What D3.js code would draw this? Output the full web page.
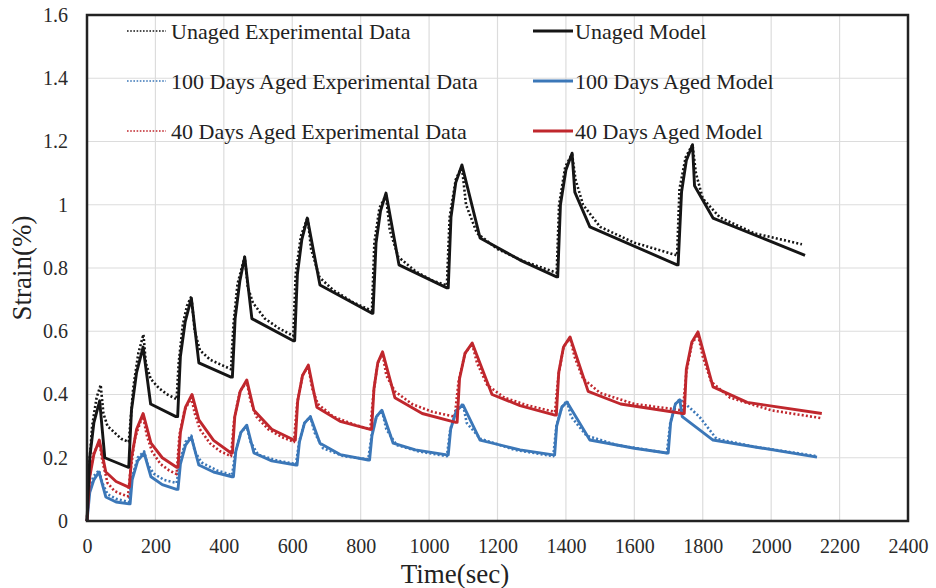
<!DOCTYPE html>
<html>
<head>
<meta charset="utf-8">
<script src="https://cdnjs.cloudflare.com/ajax/libs/d3/7.8.5/d3.min.js"></script>
<style>
  body { margin: 0; background: #fff; }
  svg { display: block; font-family: "Liberation Serif", "Times New Roman", serif; }
</style>
</head>
<body>
<svg></svg>
<script>
// creep-recovery strain, [time (sec), strain (%)]
var unagedExp = [
  [0,0],[5,0.15],[15,0.3],[28,0.39],[40,0.43],[48,0.34],[60,0.3],[80,0.28],[100,0.26],[122,0.25],
  [126,0.3],[135,0.42],[150,0.53],[165,0.59],[172,0.5],[186,0.45],[210,0.42],[235,0.4],[262,0.385],
  [268,0.5],[280,0.62],[292,0.68],[305,0.71],[315,0.6],[330,0.54],[360,0.51],[390,0.495],[421,0.48],
  [428,0.62],[440,0.75],[461,0.835],[470,0.74],[485,0.69],[520,0.64],[560,0.61],[603,0.585],
  [610,0.78],[625,0.9],[645,0.96],[655,0.86],[680,0.77],[720,0.73],[780,0.69],[833,0.665],
  [840,0.88],[855,0.99],[874,1.03],[885,0.92],[910,0.835],[960,0.79],[1010,0.76],[1052,0.745],
  [1060,0.96],[1078,1.08],[1096,1.12],[1108,1.0],[1140,0.91],[1200,0.86],[1280,0.82],[1373,0.785],
  [1380,1.0],[1398,1.12],[1418,1.16],[1428,1.08],[1450,1.0],[1500,0.93],[1600,0.88],[1725,0.84],
  [1732,1.05],[1750,1.15],[1770,1.19],[1780,1.1],[1800,1.02],[1850,0.96],[1950,0.91],[2090,0.875]
];
var unagedModel = [
  [0,0],[8,0.2],[20,0.31],[37,0.38],[52,0.2],[120,0.17],
  [122,0.17],[130,0.35],[145,0.47],[164,0.55],[186,0.37],[260,0.33],
  [265,0.33],[273,0.52],[287,0.63],[305,0.705],[327,0.5],[421,0.455],
  [425,0.455],[433,0.64],[447,0.76],[461,0.835],[482,0.64],[603,0.57],
  [607,0.57],[615,0.78],[628,0.89],[644,0.958],[681,0.746],[833,0.657],
  [836,0.657],[845,0.88],[858,0.98],[874,1.037],[912,0.81],[1052,0.737],
  [1056,0.737],[1064,0.96],[1078,1.07],[1096,1.126],[1149,0.895],[1266,0.825],[1373,0.772],
  [1376,0.772],[1384,1.0],[1400,1.11],[1418,1.163],[1426,1.04],[1470,0.93],[1725,0.81],
  [1728,0.81],[1738,1.04],[1752,1.14],[1770,1.19],[1776,1.06],[1830,0.958],[2099,0.84]
];
var aged100Exp = [
  [0,0],[6,0.09],[18,0.14],[35,0.16],[45,0.12],[60,0.085],[85,0.07],[123,0.06],
  [130,0.13],[148,0.2],[167,0.22],[177,0.18],[195,0.15],[225,0.13],[262,0.12],
  [272,0.19],[288,0.25],[305,0.27],[315,0.22],[335,0.185],[380,0.16],[424,0.145],
  [434,0.22],[450,0.28],[467,0.3],[478,0.25],[500,0.21],[560,0.19],[611,0.18],
  [620,0.25],[636,0.31],[653,0.33],[665,0.28],[690,0.23],[750,0.205],[822,0.195],
  [832,0.27],[846,0.33],[862,0.35],[875,0.29],[905,0.24],[970,0.22],[1052,0.205],
  [1062,0.29],[1080,0.35],[1099,0.37],[1110,0.31],[1150,0.26],[1250,0.225],[1363,0.205],
  [1372,0.3],[1388,0.36],[1403,0.38],[1415,0.33],[1460,0.27],[1550,0.24],[1695,0.215],
  [1705,0.31],[1720,0.37],[1733,0.385],[1760,0.36],[1790,0.33],[1840,0.26],[1950,0.235],[2134,0.205]
];
var aged100Model = [
  [0,0],[8,0.09],[20,0.13],[35,0.155],[55,0.076],[85,0.06],[123,0.054],
  [126,0.054],[132,0.13],[148,0.19],[167,0.215],[187,0.14],[220,0.115],[262,0.1],
  [266,0.1],[273,0.18],[288,0.24],[305,0.265],[327,0.177],[370,0.155],[424,0.14],
  [428,0.14],[435,0.22],[450,0.28],[467,0.303],[488,0.215],[540,0.19],[611,0.177],
  [614,0.177],[621,0.25],[636,0.31],[653,0.33],[681,0.246],[740,0.21],[822,0.193],
  [826,0.193],[833,0.27],[846,0.33],[862,0.35],[895,0.246],[960,0.225],[1052,0.209],
  [1056,0.209],[1063,0.29],[1080,0.35],[1099,0.367],[1149,0.256],[1266,0.225],[1363,0.209],
  [1367,0.209],[1373,0.3],[1388,0.36],[1403,0.376],[1470,0.256],[1600,0.23],[1695,0.215],
  [1699,0.215],[1706,0.31],[1720,0.37],[1733,0.383],[1740,0.33],[1830,0.256],[2134,0.202]
];
var aged40Exp = [
  [0,0],[6,0.13],[18,0.21],[36,0.25],[45,0.19],[60,0.12],[80,0.095],[100,0.085],[120,0.078],
  [126,0.15],[140,0.26],[155,0.31],[164,0.33],[175,0.27],[190,0.22],[215,0.18],[240,0.16],[262,0.148],
  [270,0.27],[285,0.35],[305,0.39],[315,0.34],[330,0.29],[360,0.245],[390,0.22],[421,0.205],
  [430,0.32],[447,0.41],[467,0.44],[478,0.38],[495,0.33],[530,0.29],[570,0.265],[605,0.25],
  [614,0.37],[630,0.46],[647,0.49],[658,0.42],[675,0.37],[720,0.33],[780,0.305],[828,0.29],
  [838,0.41],[850,0.5],[864,0.53],[875,0.46],[900,0.41],[950,0.37],[1010,0.345],[1075,0.33],
  [1086,0.44],[1105,0.53],[1126,0.56],[1140,0.5],[1170,0.43],[1220,0.39],[1290,0.365],[1368,0.345],
  [1378,0.46],[1393,0.55],[1412,0.58],[1425,0.52],[1450,0.45],[1500,0.405],[1600,0.37],[1742,0.35],
  [1752,0.47],[1768,0.56],[1786,0.59],[1800,0.52],[1825,0.44],[1880,0.39],[2000,0.35],[2148,0.325]
];
var aged40Model = [
  [0,0],[8,0.14],[20,0.21],[36,0.256],[55,0.155],[85,0.125],[120,0.108],
  [124,0.108],[130,0.2],[145,0.29],[164,0.34],[187,0.246],[220,0.2],[262,0.17],
  [266,0.17],[273,0.28],[288,0.36],[307,0.4],[327,0.32],[370,0.255],[421,0.215],
  [425,0.215],[432,0.33],[448,0.41],[467,0.446],[488,0.35],[540,0.29],[605,0.256],
  [609,0.256],[616,0.38],[630,0.46],[647,0.493],[672,0.36],[740,0.315],[828,0.29],
  [832,0.29],[839,0.42],[850,0.5],[864,0.535],[900,0.39],[980,0.34],[1078,0.312],
  [1082,0.312],[1089,0.45],[1105,0.53],[1126,0.563],[1184,0.4],[1266,0.365],[1368,0.335],
  [1372,0.335],[1379,0.47],[1393,0.55],[1412,0.582],[1465,0.41],[1560,0.37],[1742,0.34],
  [1746,0.34],[1752,0.48],[1768,0.565],[1786,0.598],[1830,0.424],[1930,0.375],[2148,0.34]
];

var xTicks = [0, 200, 400, 600, 800, 1000, 1200, 1400, 1600, 1800, 2000, 2200, 2400];
var yTicks = [0, 0.2, 0.4, 0.6, 0.8, 1, 1.2, 1.4, 1.6];

var legendLeft = ['Unaged Experimental Data', '100 Days Aged Experimental Data', '40 Days Aged Experimental Data'];
var legendRight = ['Unaged Model', '100 Days Aged Model', '40 Days Aged Model'];

var colors = ['#151515', '#3b77b8', '#c0272d'];

var width = 936;
var height = 588;
var margin = { top: 15, right: 28, bottom: 67, left: 87 };

var svg = d3.select('svg')
  .attr('width', width)
  .attr('height', height);

var x = d3.scaleLinear().domain([0, 2400]).range([margin.left, width - margin.right]);
var y = d3.scaleLinear().domain([0, 1.6]).range([height - margin.bottom, margin.top]);

// grid
svg.append('g')
  .selectAll('line')
  .data(xTicks)
  .enter()
  .append('line')
    .attr('x1', d => x(d)).attr('x2', d => x(d))
    .attr('y1', y(0)).attr('y2', y(1.6))
    .attr('stroke', '#dcdcdc')
    .attr('stroke-width', 1.2);

svg.append('g')
  .selectAll('line')
  .data(yTicks)
  .enter()
  .append('line')
    .attr('x1', x(0)).attr('x2', x(2400))
    .attr('y1', d => y(d)).attr('y2', d => y(d))
    .attr('stroke', '#dcdcdc')
    .attr('stroke-width', 1.2);

// axes (labels only, no tick marks)
var xAxis = svg.append('g')
  .attr('transform', `translate(0, ${y(0)})`)
  .call(d3.axisBottom(x).tickValues(xTicks).tickSize(0).tickPadding(18).tickFormat(d3.format('d')));
var yAxis = svg.append('g')
  .attr('transform', `translate(${x(0)}, 0)`)
  .call(d3.axisLeft(y).tickValues(yTicks).tickSize(0).tickPadding(19).tickFormat(d => String(d)));

[xAxis, yAxis].forEach(function(a) {
  a.select('.domain').remove();
  a.selectAll('text')
    .attr('font-family', '"Liberation Serif", serif')
    .attr('font-size', 20)
    .attr('fill', '#2a2a2a');
});

// series
var line = d3.line()
  .x(d => x(d[0]))
  .y(d => y(d[1]));

var series = [
  { data: unagedExp, color: colors[0], dashed: true },
  { data: aged100Exp, color: colors[1], dashed: true },
  { data: aged40Exp, color: colors[2], dashed: true },
  { data: aged100Model, color: colors[1], dashed: false },
  { data: aged40Model, color: colors[2], dashed: false },
  { data: unagedModel, color: colors[0], dashed: false }
];

svg.append('g')
  .selectAll('path')
  .data(series)
  .enter()
  .append('path')
    .attr('d', d => line(d.data))
    .attr('fill', 'none')
    .attr('stroke', d => d.color)
    .attr('stroke-width', d => d.dashed ? 2.6 : 2.9)
    .attr('stroke-dasharray', d => d.dashed ? '2,2.2' : null)
    .attr('stroke-linejoin', 'round');

// frame
svg.append('rect')
  .attr('x', x(0))
  .attr('y', y(1.6))
  .attr('width', x(2400) - x(0))
  .attr('height', y(0) - y(1.6))
  .attr('fill', 'none')
  .attr('stroke', '#222')
  .attr('stroke-width', 2.5);

// legend
var rows = [0, 1, 2];
var legend = svg.append('g');

legend.selectAll('.legL')
  .data(rows)
  .enter()
  .append('line')
    .attr('x1', 127).attr('x2', 166)
    .attr('y1', d => 31 + d * 50).attr('y2', d => 31 + d * 50)
    .attr('stroke', d => colors[d])
    .attr('stroke-width', 1.6)
    .attr('stroke-dasharray', '1.6,1.6');

legend.selectAll('.legR')
  .data(rows)
  .enter()
  .append('line')
    .attr('x1', 533).attr('x2', 573)
    .attr('y1', d => 31 + d * 50).attr('y2', d => 31 + d * 50)
    .attr('stroke', d => colors[d])
    .attr('stroke-width', 3);

legend.selectAll('.txtL')
  .data(legendLeft)
  .enter()
  .append('text')
    .attr('x', 171)
    .attr('y', (d, i) => 31 + i * 50)
    .attr('dy', '0.35em')
    .attr('font-size', 22)
    .attr('fill', '#222')
    .text(d => d);

legend.selectAll('.txtR')
  .data(legendRight)
  .enter()
  .append('text')
    .attr('x', 575)
    .attr('y', (d, i) => 31 + i * 50)
    .attr('dy', '0.35em')
    .attr('font-size', 22)
    .attr('fill', '#222')
    .text(d => d);

// axis titles
svg.append('text')
  .attr('x', 455)
  .attr('y', 583)
  .attr('text-anchor', 'middle')
  .attr('font-size', 27)
  .attr('fill', '#222')
  .text('Time(sec)');

svg.append('text')
  .attr('transform', `translate(31, ${y(0.8)}) rotate(-90)`)
  .attr('text-anchor', 'middle')
  .attr('font-size', 27)
  .attr('fill', '#222')
  .text('Strain(%)');
</script>
</body>
</html>
